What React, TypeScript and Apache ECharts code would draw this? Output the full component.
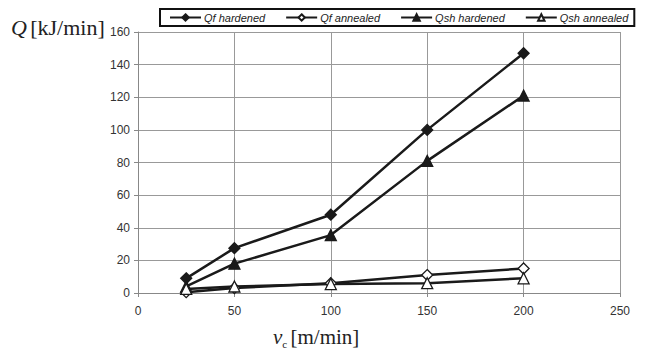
import React, { useEffect, useRef } from "react";
import * as echarts from "echarts";

const speeds = [25, 50, 100, 150, 200];
const qfHardened = [9, 27.5, 48, 100, 147];
const qfAnnealed = [0.5, 3, 6, 11, 15];
const qshHardened = [4, 18, 35.5, 81, 121];
const qshAnnealed = [2.5, 4, 5.5, 6, 9];
const seriesNames = ["Qf hardened", "Qf annealed", "Qsh hardened", "Qsh annealed"];

const diamond = "path://M0,-1L1,0L0,1L-1,0Z";
const triangle = "path://M0,-1L1,0.8L-1,0.8Z";

export default function App() {
  const ref = useRef<HTMLDivElement>(null);
  useEffect(() => {
    if (!ref.current) return;
    const chart = echarts.init(ref.current, null, { renderer: "svg" });
    const mk = (name: string, data: number[], symbol: string, filled: boolean, size: number) => ({
      name,
      type: "line",
      data: speeds.map((s, i) => [s, data[i]]),
      symbol,
      symbolSize: size,
      showAllSymbol: true,
      lineStyle: { color: "#1a1a1a", width: 2.5 },
      itemStyle: { color: filled ? "#1a1a1a" : "#ffffff", borderColor: "#1a1a1a", borderWidth: 1.3 },
      emphasis: { disabled: true },
    });
    chart.setOption({
      animation: false,
      backgroundColor: "#ffffff",
      grid: { left: 138, right: 32, top: 32, bottom: 62 },
      legend: {
        data: seriesNames,
        left: 160,
        top: 9,
        width: 475,
        orient: "horizontal",
        backgroundColor: "#ffffff",
        borderColor: "#111",
        borderWidth: 2,
        padding: [3, 6, 3, 9],
        itemGap: 20,
        itemWidth: 31,
        itemHeight: 8,
        textStyle: { fontFamily: "Arial", fontStyle: "italic", fontSize: 11, color: "#222", padding: [0, 0, 0, -2] },
        z: 10,
      },
      xAxis: {
        type: "value",
        min: 0,
        max: 250,
        interval: 50,
        axisLine: { lineStyle: { color: "#888", width: 1 } },
        axisTick: { show: true, inside: false, length: 4, lineStyle: { color: "#888" } },
        axisLabel: { fontFamily: "Arial", fontSize: 12, color: "#333", margin: 12 },
        splitLine: { show: true, lineStyle: { color: "#999", width: 1 } },
      },
      yAxis: {
        type: "value",
        min: 0,
        max: 160,
        interval: 20,
        axisLine: { show: true, lineStyle: { color: "#888", width: 1 } },
        axisTick: { show: true, inside: false, length: 4, lineStyle: { color: "#888" } },
        axisLabel: { fontFamily: "Arial", fontSize: 12, color: "#333", margin: 8 },
        splitLine: { show: true, lineStyle: { color: "#999", width: 1 } },
      },
      graphic: [
        {
          type: "text",
          left: 11,
          top: 16,
          style: {
            text: "{i|Q} {n|[kJ/min]}",
            rich: {
              i: { fontFamily: "Liberation Serif", fontStyle: "italic", fontSize: 22, fill: "#222" },
              n: { fontFamily: "Liberation Serif", fontSize: 22, fill: "#222" },
            },
          },
        },
        {
          type: "text",
          left: 273,
          top: 326,
          style: {
            text: "{i|v}{s|c} {n|[m/min]}",
            rich: {
              i: { fontFamily: "Liberation Serif", fontStyle: "italic", fontSize: 21, fill: "#222" },
              s: { fontFamily: "Liberation Serif", fontSize: 11, fill: "#222", padding: [14, 0, 0, 0] },
              n: { fontFamily: "Liberation Serif", fontSize: 21, fill: "#222" },
            },
          },
        },
      ],
      series: [
        mk("Qf hardened", qfHardened, diamond, true, 11),
        mk("Qf annealed", qfAnnealed, diamond, false, 11),
        mk("Qsh hardened", qshHardened, triangle, true, 11),
        mk("Qsh annealed", qshAnnealed, triangle, false, 11),
      ],
    });
    return () => chart.dispose();
  }, []);
  return <div ref={ref} style={{ width: 652, height: 355, position: "absolute", left: 0, top: 0 }} />;
}
